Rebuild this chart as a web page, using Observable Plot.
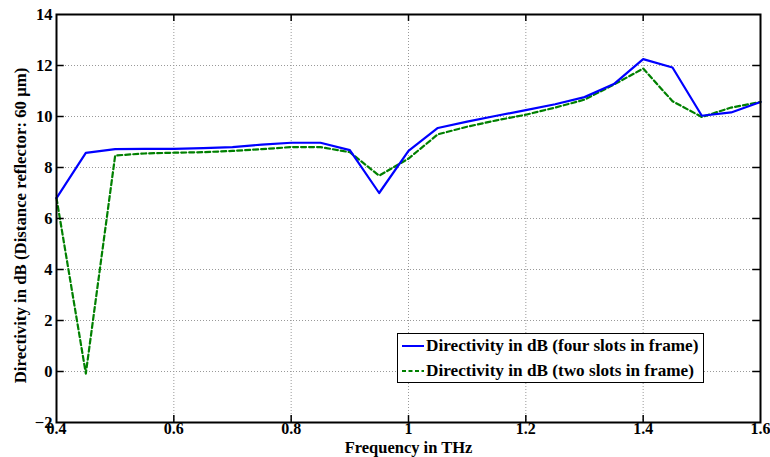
<!DOCTYPE html>
<html><head><meta charset="utf-8">
<script src="https://cdn.jsdelivr.net/npm/d3@7"></script>
<script src="https://cdn.jsdelivr.net/npm/@observablehq/plot@0.6"></script>
<style>
body{margin:0;background:#fff;}
#wrap{position:relative;width:770px;height:457px;overflow:hidden;}
#wrap svg text{font-family:"Liberation Serif","Times New Roman",Times,"DejaVu Serif",serif !important;font-weight:bold;}
#legend{position:absolute;left:397px;top:333px;width:305px;height:48px;border:1.5px solid #000;background:#fff;font-family:"Liberation Serif","Times New Roman",Times,"DejaVu Serif",serif;font-weight:bold;font-size:17.2px;white-space:nowrap;}
#legend .row{position:absolute;left:4px;height:22px;display:flex;align-items:center;white-space:nowrap;}
#legend svg{margin-right:2px;flex:none;}
</style></head>
<body><div id="wrap"></div>
<script>
const freq = [0.4,0.45,0.5,0.55,0.6,0.65,0.7,0.75,0.8,0.85,0.9,0.95,1.0,1.05,1.1,1.15,1.2,1.25,1.3,1.35,1.4,1.45,1.5,1.55,1.6];
const fourSlots = [6.8,8.57,8.72,8.73,8.73,8.76,8.8,8.9,8.97,8.97,8.68,7.0,8.65,9.55,9.8,10.03,10.25,10.48,10.76,11.27,12.25,11.92,10.03,10.16,10.57];
const twoSlots  = [6.8,-0.08,8.47,8.55,8.58,8.6,8.65,8.72,8.8,8.8,8.6,7.68,8.35,9.3,9.6,9.85,10.07,10.35,10.66,11.25,11.88,10.6,9.98,10.35,10.57];
const xTicks = [0.4,0.6,0.8,1.0,1.2,1.4,1.6];
const yTicks = [-2,0,2,4,6,8,10,12,14];
const seriesNames = ["Directivity in dB (four slots in frame)","Directivity in dB (two slots in frame)"];
const xLabel = "Frequency in THz";
const yLabel = "Directivity in dB (Distance reflector: 60 \u03bcm)";

const four = freq.map((f,i)=>({f, v: fourSlots[i]}));
const two = freq.map((f,i)=>({f, v: twoSlots[i]}));
const xMin = 0.4, xMax = 1.6, yMin = -2, yMax = 14;
const innerX = xTicks.filter(d=>d>xMin && d<xMax);
const innerY = yTicks.filter(d=>d>yMin && d<yMax);
const tx = (xMax-xMin)*0.011, ty = (yMax-yMin)*0.017;

const chart = Plot.plot({
  width: 770, height: 457,
  marginLeft: 56, marginRight: 10, marginTop: 14, marginBottom: 35,
  style: {background: "#fff", color: "#000"},
  x: {domain: [xMin, xMax]},
  y: {domain: [yMin, yMax]},
  marks: [
    Plot.ruleX(innerX, {stroke: "#999", strokeDasharray: "1,2", strokeWidth: 1}),
    Plot.ruleY(innerY, {stroke: "#999", strokeDasharray: "1,2", strokeWidth: 1}),
    Plot.line(two, {x: "f", y: "v", stroke: "#008000", strokeWidth: 2.2, strokeDasharray: "5,3"}),
    Plot.line(four, {x: "f", y: "v", stroke: "#0000ff", strokeWidth: 2.2}),
    Plot.ruleX(innerX, {x: d=>d, y1: yMin, y2: yMin+ty, stroke: "#000", strokeWidth: 1.5}),
    Plot.ruleX(innerX, {x: d=>d, y1: yMax, y2: yMax-ty, stroke: "#000", strokeWidth: 1.5}),
    Plot.ruleY(innerY, {y: d=>d, x1: xMin, x2: xMin+tx, stroke: "#000", strokeWidth: 1.5}),
    Plot.ruleY(innerY, {y: d=>d, x1: xMax, x2: xMax-tx, stroke: "#000", strokeWidth: 1.5}),
    Plot.frame({stroke: "#000", strokeWidth: 2}),
    Plot.axisX(xTicks, {tickSize: 0, tickPadding: 0, label: null, fontSize: 16, tickFormat: d => d === 1 ? "1" : String(d)}),
    Plot.axisY(yTicks, {tickSize: 0, tickPadding: 4, label: null, fontSize: 16.5}),
    Plot.text([xLabel], {frameAnchor: "bottom", lineAnchor: "top", dy: 18.5, fontSize: 16.5}),
    Plot.text([yLabel], {frameAnchor: "left", textAnchor: "middle", rotate: -90, dx: -36, dy: 7, fontSize: 16.8})
  ]
});
const wrap = document.getElementById("wrap");
wrap.appendChild(chart);

const legend = document.createElement("div");
legend.id = "legend";
const styles = [{stroke:"#0000ff", dash:null},{stroke:"#008000", dash:"4,2.5"}];
seriesNames.forEach((name,i)=>{
  const row = document.createElement("div");
  row.className = "row";
  row.style.top = (1 + i*25) + "px";
  const s = d3.create("svg").attr("width",22).attr("height",10);
  s.append("line").attr("x1",0).attr("x2",22).attr("y1",5).attr("y2",5)
    .attr("stroke",styles[i].stroke).attr("stroke-width",2).attr("stroke-dasharray",styles[i].dash);
  row.appendChild(s.node());
  const t = document.createElement("span");
  t.textContent = name;
  row.appendChild(t);
  legend.appendChild(row);
});
wrap.appendChild(legend);
</script></body></html>
